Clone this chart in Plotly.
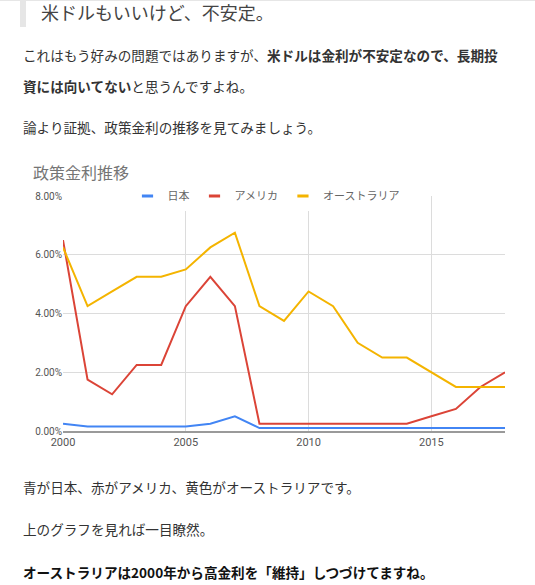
import plotly.graph_objects as go

years = list(range(2000, 2019))

# policy rates (%)
japan = [0.25, 0.15, 0.15, 0.15, 0.15, 0.15, 0.25, 0.5, 0.1, 0.1,
         0.1, 0.1, 0.1, 0.1, 0.1, 0.1, 0.1, 0.1, 0.1]
usa = [6.5, 1.75, 1.25, 2.25, 2.25, 4.25, 5.25, 4.25, 0.25, 0.25,
       0.25, 0.25, 0.25, 0.25, 0.25, 0.5, 0.75, 1.5, 2.0]
australia = [6.25, 4.25, 4.75, 5.25, 5.25, 5.5, 6.25, 6.75, 4.25, 3.75,
             4.75, 4.25, 3.0, 2.5, 2.5, 2.0, 1.5, 1.5, 1.5]

series_names = ["日本", "アメリカ", "オーストラリア"]
series_colors = ["#4285F4", "#DB4437", "#F4B400"]

W, H = 535, 585
L, R, T, B = 63, 30, 196, 154
PW, PH = W - L - R, H - T - B

JP = "Noto Sans CJK JP"


def px_x(x):
    return (x - L) / PW


def px_y(y):
    return (H - B - y) / PH


fig = go.Figure()
for name, vals, col in zip(series_names, [japan, usa, australia], series_colors):
    fig.add_trace(go.Scatter(x=years, y=vals, mode="lines", name=name,
                             line=dict(color=col, width=2), showlegend=False))
    # short dash for the legend entry
    fig.add_trace(go.Scatter(x=[None], y=[None], mode="markers", name=name,
                             marker=dict(symbol="line-ew-open", size=8, color=col,
                                         line=dict(color=col, width=3))))

fig.update_layout(
    width=W, height=H,
    margin=dict(l=L, r=R, t=T, b=B),
    paper_bgcolor="white", plot_bgcolor="white",
    font=dict(family="Roboto, " + JP, size=10, color="#555"),
    legend=dict(orientation="h", x=px_x(266), xanchor="center",
                y=px_y(196), yanchor="middle", bgcolor="white",
                font=dict(family=JP, size=11, color="#666"), itemwidth=30),
)
fig.update_xaxes(range=[2000, 2018], dtick=5, tick0=2000, showgrid=True,
                 gridcolor="#dcdcdc", gridwidth=1, zeroline=False,
                 showline=True, linecolor="#9a9a9a", linewidth=2,
                 tickfont=dict(size=11, color="#555"))
fig.update_yaxes(range=[0, 8], dtick=2, tickformat=".2f", ticksuffix="%",
                 showgrid=True, gridcolor="#dcdcdc", gridwidth=1,
                 zeroline=False, tickfont=dict(size=10, color="#555"))

# page decoration
fig.add_shape(type="rect", xref="paper", yref="paper",
              x0=px_x(0), x1=px_x(W), y0=px_y(1), y1=px_y(0),
              fillcolor="#e6e6e6", line_width=0, layer="above")
fig.add_shape(type="rect", xref="paper", yref="paper",
              x0=px_x(20), x1=px_x(26), y0=px_y(27), y1=px_y(0),
              fillcolor="#e6e6e6", line_width=0)

texts = [
    (39, 12, "米ドルもいいけど、不安定。", 18, "#444"),
    (21, 55, "これはもう好みの問題ではありますが、<b>米ドルは金利が不安定なので、長期投</b>", 13.6, "#333"),
    (21, 86, "<b>資には向いてない</b>と思うんですよね。", 13.6, "#333"),
    (21, 127, "論より証拠、政策金利の推移を見てみましょう。", 13.6, "#333"),
    (31, 172, "政策金利推移", 16, "#757575"),
    (21, 487, "青が日本、赤がアメリカ、黄色がオーストラリアです。", 13.6, "#333"),
    (21, 529, "上のグラフを見れば一目瞭然。", 13.6, "#333"),
    (21, 572, "<b>オーストラリアは2000年から高金利を「維持」しつづけてますね。</b>", 13.6, "#111"),
]
for x, y, txt, size, col in texts:
    fig.add_annotation(x=px_x(x), y=px_y(y), xref="paper", yref="paper",
                       text=txt, showarrow=False, xanchor="left",
                       yanchor="middle", font=dict(family=JP, size=size, color=col))

fig.write_html("out.html", config={"displayModeBar": False},
               post_script="document.body.style.margin='0';")
